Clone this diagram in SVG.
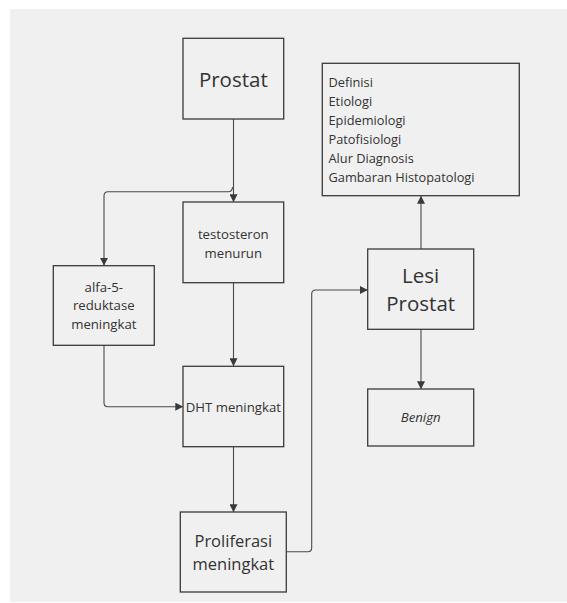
<svg xmlns="http://www.w3.org/2000/svg" width="567" height="603" viewBox="0 0 567 603">
<defs>
<marker id="arr" viewBox="0 0 10 10" refX="9" refY="5" markerWidth="8" markerHeight="8" markerUnits="userSpaceOnUse" orient="auto">
<path d="M0,0 L10,5 L0,10 z" fill="#3a3a3a"/>
</marker>
<style>
.box{fill:#f0f0f0;stroke:#3a3a3a;stroke-width:1.3}
.t{font-family:"Open Sans","Liberation Sans",sans-serif;fill:#333333}
.s{font-size:13.2px}
.c{stroke:#4a4a4a;stroke-width:1.1;fill:none;marker-end:url(#arr)}
</style>
</defs>
<rect x="0" y="0" width="567" height="603" fill="#ffffff"/>
<rect x="10" y="9" width="557" height="593" fill="#f0f0f0"/>
<g id="connectors">
<path class="c" d="M233.5,119 V201.5"/>
<path class="c" d="M232.5,187 Q232.5,191.7 228,191.7 H108 Q104,191.7 104,196 V265"/>
<path class="c" d="M233.5,282.7 V365.5"/>
<path class="c" d="M104,345.3 V402.7 Q104,406.7 108,406.7 H182.5"/>
<path class="c" d="M233.5,446.7 V511.5"/>
<path class="c" d="M286.3,551.7 H307.7 Q311.7,551.7 311.7,547.7 V294 Q311.7,290 315.7,290 H367"/>
<path class="c" d="M421,249 V196.5"/>
<path class="c" d="M421,329.3 V388.5"/>
</g>
<g id="prostat">
<rect class="box" x="183" y="38.3" width="100.7" height="80.7"/>
<text class="t" x="233.3" y="87" font-size="20.5" text-anchor="middle">Prostat</text>
</g>
<g id="info">
<rect class="box" x="322.3" y="63.3" width="197" height="132.4"/>
<text class="t" font-size="12.8" x="328.5" y="87">Definisi</text>
<text class="t" font-size="12.8" x="328.5" y="106">Etiologi</text>
<text class="t" font-size="12.8" x="328.5" y="125">Epidemiologi</text>
<text class="t" font-size="12.8" x="328.5" y="144">Patofisiologi</text>
<text class="t" font-size="12.8" x="328.5" y="163">Alur Diagnosis</text>
<text class="t" font-size="12.8" x="328.5" y="182">Gambaran Histopatologi</text>
</g>
<g id="testosteron">
<rect class="box" x="183" y="202" width="100.7" height="80.7"/>
<text class="t s" x="233.3" y="239" text-anchor="middle">testosteron</text>
<text class="t s" x="233.3" y="257.5" text-anchor="middle">menurun</text>
</g>
<g id="alfa">
<rect class="box" x="53.3" y="265.7" width="101" height="79.6"/>
<text class="t s" x="103.8" y="291.7" text-anchor="middle">alfa-5-</text>
<text class="t s" x="103.8" y="310.3" text-anchor="middle">reduktase</text>
<text class="t s" x="103.8" y="329" text-anchor="middle">meningkat</text>
</g>
<g id="lesi">
<rect class="box" x="367.7" y="249" width="106" height="80.3"/>
<text class="t" font-size="20.5" x="420.7" y="283.3" text-anchor="middle">Lesi</text>
<text class="t" font-size="20.5" x="420.7" y="310.5" text-anchor="middle">Prostat</text>
</g>
<g id="dht">
<rect class="box" x="183" y="366.3" width="100.7" height="80.4"/>
<text class="t s" x="233.3" y="411.5" text-anchor="middle">DHT meningkat</text>
</g>
<g id="benign">
<rect class="box" x="367.7" y="389" width="106" height="57"/>
<text class="t s" font-style="italic" x="420.7" y="422.3" text-anchor="middle">Benign</text>
</g>
<g id="proliferasi">
<rect class="box" x="180.3" y="512" width="106" height="80"/>
<text class="t" font-size="16.5" x="233.3" y="546.5" text-anchor="middle">Proliferasi</text>
<text class="t" font-size="16.5" x="233.3" y="570" text-anchor="middle">meningkat</text>
</g>
</svg>
